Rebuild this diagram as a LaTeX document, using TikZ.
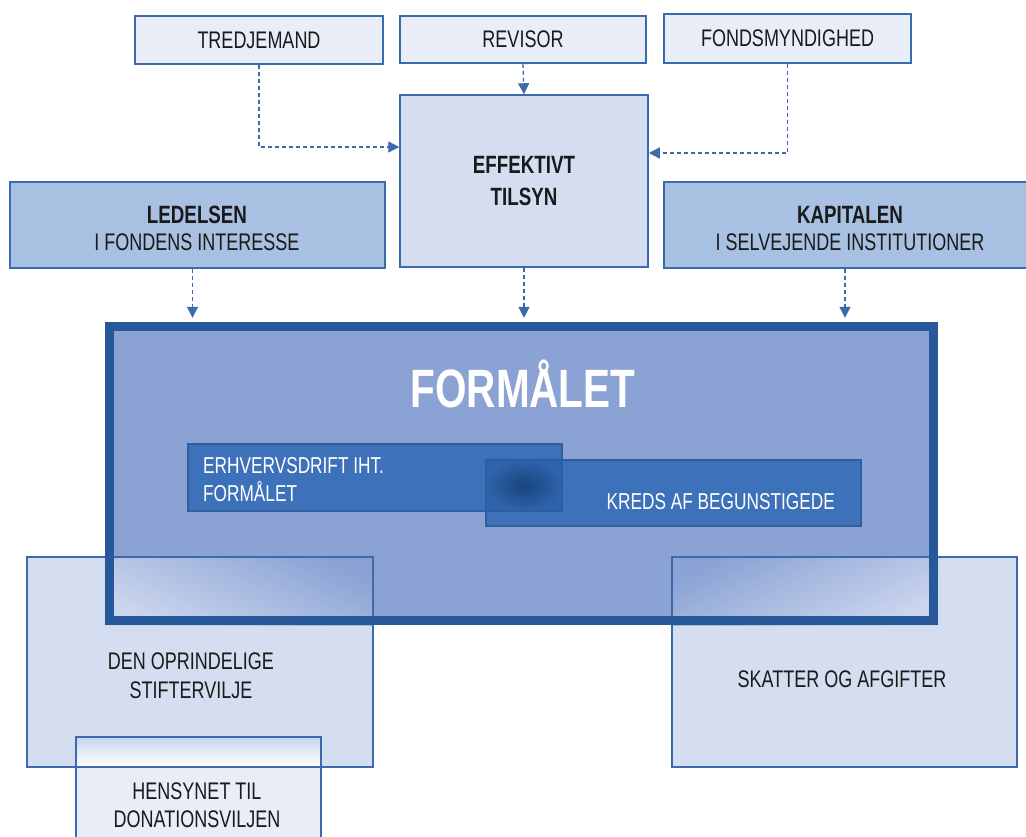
\documentclass[tikz,border=0pt]{standalone}
\usepackage{fontspec}
\setmainfont{Liberation Sans}[FakeStretch=0.75]
\usetikzlibrary{arrows.meta,calc}
\definecolor{edge}{HTML}{3B6BAE}
\definecolor{paleA}{HTML}{E8EDF7}
\definecolor{paleB}{HTML}{D5DEF0}
\definecolor{midA}{HTML}{A8C0E1}
\definecolor{formfill}{HTML}{8AA3D4}
\definecolor{framecol}{HTML}{27589A}
\definecolor{innerfill}{HTML}{3D72BB}
\definecolor{inneredge}{HTML}{2E5E9E}
\definecolor{txt}{HTML}{1A1A1A}
\definecolor{lightgrad}{HTML}{CCD6EE}
\definecolor{hensgrad}{HTML}{C9D5EC}
\definecolor{spotdark}{HTML}{17457D}
\definecolor{spotout}{HTML}{2F63AB}
\tikzset{
  box/.style={rectangle, draw=edge, line width=1.5pt, inner sep=0pt, text=txt,
              font=\fontsize{24}{28}\selectfont},
  plainbox/.style={rectangle, inner sep=0pt, draw=none},
  lbl/.style={inner sep=0pt, text=txt, font=\fontsize{24}{28}\selectfont},
  hd/.style={inner sep=0pt, text=txt, font=\fontsize{25}{30}\selectfont\bfseries},
  wlbl/.style={inner sep=0pt, text=white, font=\fontsize{23}{28}\selectfont},
  conn/.style={draw=edge, line width=1.3pt, dash pattern=on 4pt off 3pt,
               -{Triangle[length=11pt,width=11pt]}},
  outline/.style={draw=edge, line width=1.5pt},
}
\begin{document}
\begin{tikzpicture}[x=1pt,y=-1pt]
\clip (0,0) rectangle (1026,836);
\fill[white] (0,0) rectangle (1026,836);

% top boxes
\node[box, fill=paleA, minimum width=248, minimum height=48] (tred) at (259,40) {TREDJEMAND};
\node[box, fill=paleA, minimum width=246, minimum height=47] (rev) at (523,39.5) {REVISOR};
\node[box, fill=paleA, minimum width=247, minimum height=49] (fonds) at (787.5,38.5) {FONDSMYNDIGHED};

% effektivt tilsyn
\node[box, fill=paleB, minimum width=248, minimum height=172] (eff) at (524,181) {};
\node[hd, anchor=base] (effA) at (524,173) {EFFEKTIVT};
\node[hd, anchor=base] (effB) at (524,205) {TILSYN};

% ledelsen / kapitalen
\node[box, fill=midA, minimum width=375, minimum height=86] (led) at (197.5,225) {};
\node[hd, anchor=base] (ledA) at (197,223) {LEDELSEN};
\node[lbl, anchor=base] (ledB) at (197,250) {I FONDENS INTERESSE};
\node[box, fill=midA, minimum width=368, minimum height=86] (kap) at (848,225) {};
\node[hd, anchor=base] (kapA) at (850,223) {KAPITALEN};
\node[lbl, anchor=base] (kapB) at (850,250) {I SELVEJENDE INSTITUTIONER};

% arrows
\draw[conn] (tred.south) |- ([yshift=34pt]eff.west);
\draw[conn] (rev.south) -- (eff.north);
\draw[conn] (fonds.south) |- ([yshift=28pt]eff.east);

% lower boxes (fill only first)
\node[plainbox, fill=paleB, minimum width=346, minimum height=210] (stif) at (200,662) {};
\node[plainbox, fill=paleB, minimum width=345, minimum height=210] (skat) at (844.5,662) {};

% formaalet area
\node[plainbox, fill=formfill, minimum width=833, minimum height=303] (form) at (521.5,473.5) {};

\draw[conn, shorten >=4pt] ([xshift=-5pt]led.south) -- ([xshift=-5pt]led.south |- form.north);
\draw[conn, shorten >=4pt] (eff.south) -- (eff.south |- form.north);
\draw[conn, shorten >=4pt] ([xshift=-3pt]kap.south) -- ([xshift=-3pt]kap.south |- form.north);

% overlap shading
\shade[top color=formfill, bottom color=lightgrad, shading angle=-25]
  (form.west |- stif.north) rectangle (stif.east |- form.south);
\shade[top color=formfill, bottom color=lightgrad, shading angle=25]
  (skat.west |- skat.north) rectangle (form.east |- form.south);

% hensynet box
\node[plainbox, fill=paleA, minimum width=245, minimum height=123] (hens) at (198.5,798.5) {};
\shade[top color=hensgrad, bottom color=white]
  (hens.north west) rectangle (hens.east |- stif.south);
\draw[draw=edge, line width=2pt] (hens.south west) -- (hens.north west) -- (hens.north east) -- (hens.south east);
\node[lbl, anchor=base] (hensA) at (197,799) {HENSYNET TIL};
\node[lbl, anchor=base] (hensB) at (197,827) {DONATIONSVILJEN};

% lower box outlines
\draw[outline] (stif.north west) rectangle (stif.south east);
\draw[outline] (skat.north west) rectangle (skat.south east);
\node[lbl, anchor=base] (stifA) at (191,669) {DEN OPRINDELIGE};
\node[lbl, anchor=base] (stifB) at (191,698) {STIFTERVILJE};
\node[lbl, anchor=base] (skatA) at (842,687) {SKATTER OG AFGIFTER};

% thick frame
\draw[draw=framecol, line width=9pt]
  ([shift={(4.5pt,-4.5pt)}]form.north west) rectangle ([shift={(-4.5pt,4.5pt)}]form.south east);
\node[inner sep=0pt, text=white, font=\fontsize{54}{54}\selectfont\bfseries, anchor=base] (title) at (523,407) {FORMÅLET};

% inner boxes
\node[plainbox, fill=innerfill, minimum width=374, minimum height=67] (erh) at (375,477.5) {};
\node[plainbox, fill=innerfill, minimum width=375, minimum height=66] (kreds) at (673.5,493) {};
\shade[inner color=spotdark, outer color=spotout] (kreds.north west) rectangle (erh.south east);
\draw[draw=inneredge, line width=1.5pt] (erh.north west) rectangle (erh.south east);
\draw[draw=inneredge, line width=1.5pt] (kreds.north west) rectangle (kreds.south east);
\node[wlbl, anchor=base west] (erhA) at (203,473) {ERHVERVSDRIFT IHT.};
\node[wlbl, anchor=base west] (erhB) at (203,501) {FORMÅLET};
\node[wlbl, anchor=base east] (kredsA) at (835,509) {KREDS AF BEGUNSTIGEDE};
\end{tikzpicture}
\end{document}
